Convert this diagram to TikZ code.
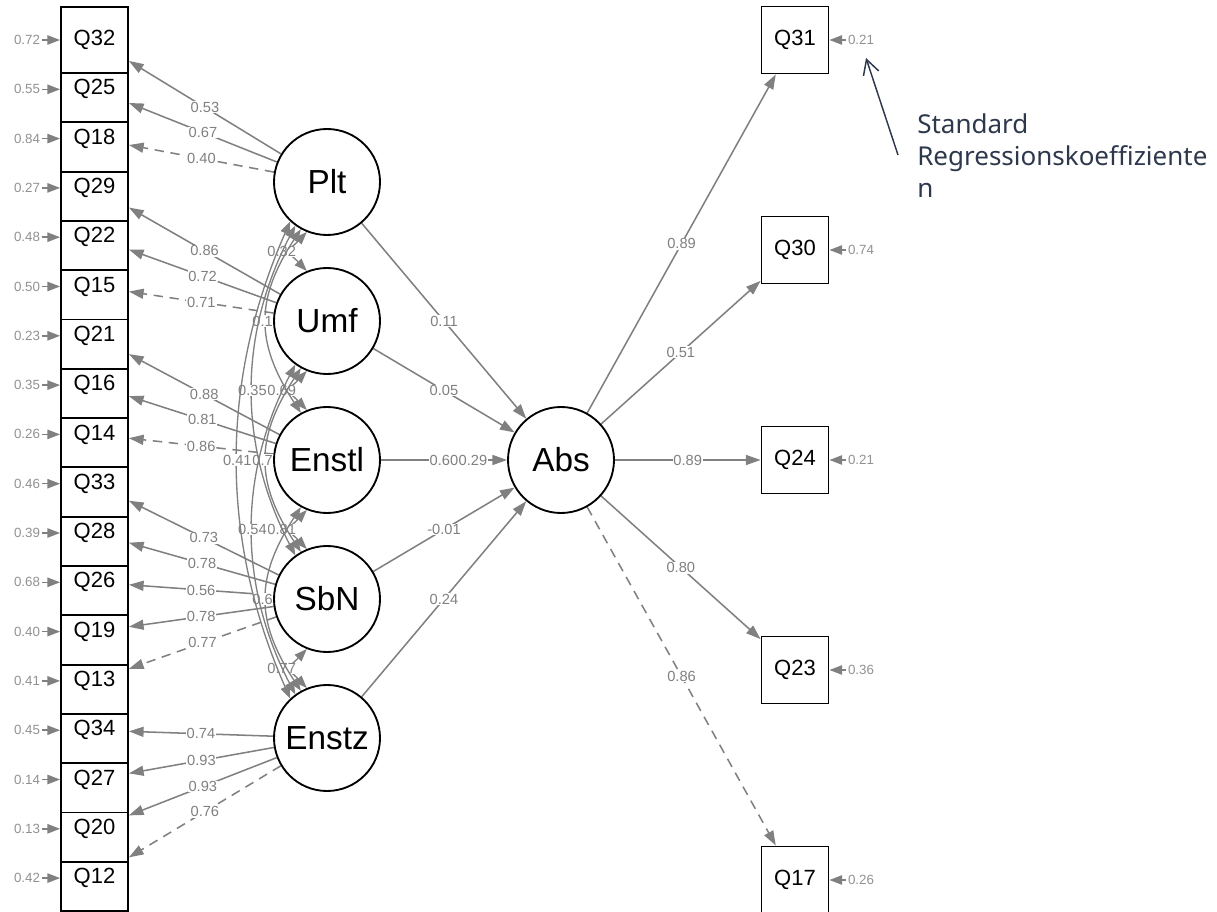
\documentclass[tikz,border=0pt]{standalone}
\usepackage{fontspec}
\setmainfont{Liberation Sans}
\newfontfamily\notefont{Noto Sans}
\usetikzlibrary{arrows.meta, backgrounds}

\definecolor{edgegray}{RGB}{128,128,128}
\definecolor{residgray}{RGB}{145,145,145}
\definecolor{notenavy}{RGB}{46,56,76}

\begin{document}
\begin{tikzpicture}[x = 0.75pt, y = -0.75pt,
	item/.style = {draw, fill = white, line width = 1.4pt, minimum width = 50.25pt, minimum height = 49.5pt, inner sep = 0pt, font = \fontsize{16.5}{19}\selectfont},
	latent/.style = {draw, circle, fill = white, line width = 1.4pt, minimum size = 79.5pt, inner sep = 0pt, font = \fontsize{25}{30}\selectfont},
	load/.style = {edgegray, line width = 1.15pt, -{Triangle[length = 11pt, width = 7.5pt]}},
	fixload/.style = {load, dash pattern = on 7pt off 5pt},
	covar/.style = {edgegray, line width = 1pt, {Triangle[length = 9.5pt, width = 7pt]}-{Triangle[length = 9.5pt, width = 7pt]}},
	coef/.style = {fill = white, text = edgegray, inner sep = 0.6pt, font = \fontsize{11}{13}\selectfont},
	residlbl/.style = {text = residgray, inner sep = 1pt, font = \fontsize{10}{12}\selectfont},
	resid/.style = {edgegray, line width = 1.15pt, -{Triangle[length = 9.5pt, width = 7pt]}},
	note/.style = {text = notenavy, align = left, inner sep = 0pt, font = \notefont\fontsize{19.5}{24}\selectfont},
	notearrow/.style = {notenavy, line width = 1.1pt, -{Straight Barb[length = 11pt, width = 12pt]}}]

	% Definition
	
	\def\xL{94.5}		% Column of the left items
	\def\xR{795}		% Column of the right items
	
	\useasboundingbox (0, 0) rectangle (1217, 912);
	
	% Left items, drawn from the bottom up
	
	\node [item] (Q12) at (\xL, 878.1) {Q12};
	\node [item] (Q20) at (\xL, 828.8) {Q20};
	\node [item] (Q27) at (\xL, 779.5) {Q27};
	\node [item] (Q34) at (\xL, 730.2) {Q34};
	\node [item] (Q13) at (\xL, 680.9) {Q13};
	\node [item] (Q19) at (\xL, 631.6) {Q19};
	\node [item] (Q26) at (\xL, 582.3) {Q26};
	\node [item] (Q28) at (\xL, 533.0) {Q28};
	\node [item] (Q33) at (\xL, 483.7) {Q33};
	\node [item] (Q14) at (\xL, 434.4) {Q14};
	\node [item] (Q16) at (\xL, 385.1) {Q16};
	\node [item] (Q21) at (\xL, 335.8) {Q21};
	\node [item] (Q15) at (\xL, 286.5) {Q15};
	\node [item] (Q22) at (\xL, 237.2) {Q22};
	\node [item] (Q29) at (\xL, 187.9) {Q29};
	\node [item] (Q18) at (\xL, 138.6) {Q18};
	\node [item] (Q25) at (\xL, 89.3) {Q25};
	\node [item] (Q32) at (\xL, 40.0) {Q32};
	
	% Left residuals
	
	\node [residlbl] (r32) at (27, 40.0) {0.72};
	\node [residlbl] (r25) at (27, 89.3) {0.55};
	\node [residlbl] (r18) at (27, 138.6) {0.84};
	\node [residlbl] (r29) at (27, 187.9) {0.27};
	\node [residlbl] (r22) at (27, 237.2) {0.48};
	\node [residlbl] (r15) at (27, 286.5) {0.50};
	\node [residlbl] (r21) at (27, 335.8) {0.23};
	\node [residlbl] (r16) at (27, 385.1) {0.35};
	\node [residlbl] (r14) at (27, 434.4) {0.26};
	\node [residlbl] (r33) at (27, 483.7) {0.46};
	\node [residlbl] (r28) at (27, 533.0) {0.39};
	\node [residlbl] (r26) at (27, 582.3) {0.68};
	\node [residlbl] (r19) at (27, 631.6) {0.40};
	\node [residlbl] (r13) at (27, 680.9) {0.41};
	\node [residlbl] (r34) at (27, 730.2) {0.45};
	\node [residlbl] (r27) at (27, 779.5) {0.14};
	\node [residlbl] (r20) at (27, 828.8) {0.13};
	\node [residlbl] (r12) at (27, 878.1) {0.42};
	
	\draw [resid] (r32) -- (Q32);
	\draw [resid] (r25) -- (Q25);
	\draw [resid] (r18) -- (Q18);
	\draw [resid] (r29) -- (Q29);
	\draw [resid] (r22) -- (Q22);
	\draw [resid] (r15) -- (Q15);
	\draw [resid] (r21) -- (Q21);
	\draw [resid] (r16) -- (Q16);
	\draw [resid] (r14) -- (Q14);
	\draw [resid] (r33) -- (Q33);
	\draw [resid] (r28) -- (Q28);
	\draw [resid] (r26) -- (Q26);
	\draw [resid] (r19) -- (Q19);
	\draw [resid] (r13) -- (Q13);
	\draw [resid] (r34) -- (Q34);
	\draw [resid] (r27) -- (Q27);
	\draw [resid] (r20) -- (Q20);
	\draw [resid] (r12) -- (Q12);
	
	% Latent factors
	
	\node [latent] (Plt) at (327, 182) {Plt};
	\node [latent] (Umf) at (327, 321) {Umf};
	\node [latent] (Enstl) at (327, 460) {Enstl};
	\node [latent] (SbN) at (327, 599) {SbN};
	\node [latent] (Enstz) at (327, 738) {Enstz};
	\node [latent] (Abs) at (561, 460) {Abs};
	
	% Right items with residuals
	
	\node [item, minimum height = 50.25pt] (Q31) at (\xR, 40) {Q31};
	\node [item, minimum height = 50.25pt] (Q30) at (\xR, 250) {Q30};
	\node [item, minimum height = 50.25pt] (Q24) at (\xR, 460) {Q24};
	\node [item, minimum height = 50.25pt] (Q23) at (\xR, 670) {Q23};
	\node [item, minimum height = 50.25pt] (Q17) at (\xR, 880) {Q17};
	
	\node [residlbl] (r31) at (861, 40) {0.21};
	\node [residlbl] (r30) at (861, 250) {0.74};
	\node [residlbl] (r24) at (861, 460) {0.21};
	\node [residlbl] (r23) at (861, 670) {0.36};
	\node [residlbl] (r17) at (861, 880) {0.26};
	
	\draw [resid] (r31) -- (Q31);
	\draw [resid] (r30) -- (Q30);
	\draw [resid] (r24) -- (Q24);
	\draw [resid] (r23) -- (Q23);
	\draw [resid] (r17) -- (Q17);
	
	\begin{scope}[on background layer]
	
	% Loadings on the left
	
	\draw [load] (Plt) -- node [coef, midway] {0.53} (Q32);
	\draw [load] (Plt) -- node [coef, midway] {0.67} (Q25);
	\draw [fixload] (Plt) -- node [coef, midway] {0.40} (Q18);
	
	\draw [load] (Umf) -- node [coef, midway] {0.86} (Q29);
	\draw [load] (Umf) -- node [coef, midway] {0.72} (Q22);
	\draw [fixload] (Umf) -- node [coef, midway] {0.71} (Q15);
	
	\draw [load] (Enstl) -- node [coef, midway] {0.88} (Q21);
	\draw [load] (Enstl) -- node [coef, midway] {0.81} (Q16);
	\draw [fixload] (Enstl) -- node [coef, midway] {0.86} (Q14);
	
	\draw [load] (SbN) -- node [coef, midway] {0.73} (Q33);
	\draw [load] (SbN) -- node [coef, midway] {0.78} (Q28);
	\draw [load] (SbN) -- node [coef, midway] {0.56} (Q26);
	\draw [load] (SbN) -- node [coef, midway] {0.78} (Q19);
	\draw [fixload] (SbN) -- node [coef, midway] {0.77} (Q13);
	
	\draw [load] (Enstz) -- node [coef, midway] {0.74} (Q34);
	\draw [load] (Enstz) -- node [coef, midway] {0.93} (Q27);
	\draw [load] (Enstz) -- node [coef, midway] {0.93} (Q20);
	\draw [fixload] (Enstz) -- node [coef, midway] {0.76} (Q12);
	
	% Covariances between the factors
	
	\draw [covar] (Plt.248) .. controls +(-33.5, 35) and +(-33.5, -35) .. (Umf.112) node [coef, pos = 0.5] {0.32};
	\draw [covar] (Umf.248) .. controls +(-33.5, 35) and +(-33.5, -35) .. (Enstl.112) node [coef, pos = 0.5] {0.69};
	\draw [covar] (Enstl.248) .. controls +(-33.5, 35) and +(-33.5, -35) .. (SbN.112) node [coef, pos = 0.5] {0.81};
	\draw [covar] (SbN.248) .. controls +(-33.5, 35) and +(-33.5, -35) .. (Enstz.112) node [coef, pos = 0.5] {0.77};
	
	\draw [covar] (Plt.241) .. controls +(-45.7, 70) and +(-45.7, -70) .. (Enstl.119) node [coef, pos = 0.5, xshift = -3pt] {0.1};
	\draw [covar] (Umf.241) .. controls +(-45.7, 70) and +(-45.7, -70) .. (SbN.119) node [coef, pos = 0.5, xshift = -3pt] {0.7};
	\draw [covar] (Enstl.241) .. controls +(-45.7, 70) and +(-45.7, -70) .. (Enstz.119) node [coef, pos = 0.5, xshift = -3pt] {0.6};
	
	\draw [covar] (Plt.234) .. controls +(-57.1, 110) and +(-57.1, -110) .. (SbN.126) node [coef, pos = 0.5] {0.35};
	\draw [covar] (Umf.234) .. controls +(-57.1, 110) and +(-57.1, -110) .. (Enstz.126) node [coef, pos = 0.5] {0.54};
	
	\draw [covar] (Plt.227) .. controls +(-70.5, 160) and +(-70.5, -160) .. (Enstz.133) node [coef, pos = 0.5] {0.41};
	
	% Regressions on Abs
	
	\draw [load] (Plt) -- node [coef, midway] {0.11} (Abs);
	\draw [load] (Umf) -- node [coef, midway] {0.05} (Abs);
	\draw [load] (Enstl) -- node [coef, midway] {0.60} node [coef, pos = 0.73] {0.29} (Abs);
	\draw [load] (SbN) -- node [coef, midway] {-0.01} (Abs);
	\draw [load] (Enstz) -- node [coef, midway] {0.24} (Abs);
	
	% Loadings on the right
	
	\draw [load] (Abs) -- node [coef, midway] {0.89} (Q31);
	\draw [load] (Abs) -- node [coef, midway] {0.51} (Q30);
	\draw [load] (Abs) -- node [coef, midway] {0.89} (Q24);
	\draw [load] (Abs) -- node [coef, midway] {0.80} (Q23);
	\draw [fixload] (Abs) -- node [coef, midway] {0.86} (Q17);
	
	\end{scope}
	
	% Annotation
	
	\node [note, anchor = base west] (note) at (917, 198) {Standard\\Regressionskoeffiziente\\n};
	\coordinate (notetail) at (898, 155);
	\coordinate (notetip) at (866, 58);
	\draw [notearrow] (notetail) -- (notetip);

\end{tikzpicture}
\end{document}
